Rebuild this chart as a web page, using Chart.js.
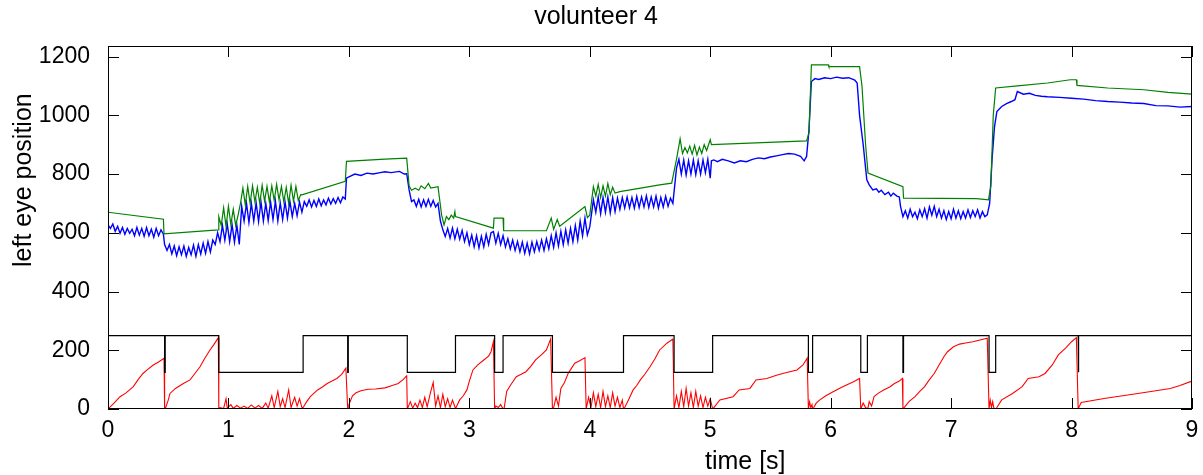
<!DOCTYPE html>
<html>
<head>
<meta charset="utf-8">
<script src="https://cdn.jsdelivr.net/npm/chart.js@4/dist/chart.umd.min.js"></script>
<style>
  html, body { margin: 0; padding: 0; background: #fff; }
  #wrap { width: 1203px; height: 475px; }
</style>
</head>
<body>
<div id="wrap"><canvas id="eye-chart" width="1203" height="475"></canvas></div>
<script>
const chartTitle = 'volunteer 4'
const xLabel = 'time [s]'
const yLabel = 'left eye position'
const xTicks = [0, 1, 2, 3, 4, 5, 6, 7, 8, 9]
const yTicks = [0, 200, 400, 600, 800, 1000, 1200]

// green: target position (time [s], value)
const greenTrace = [
  [0,670],[0.46,646],[0.465,596],[0.916,610],[0.92,655],[0.94,625],[0.96,685],[0.98,622],[1.0,690],[1.02,628],
  [1.04,680],[1.06,625],[1.08,660],[1.1,700],[1.12,752],[1.14,695],[1.16,758],[1.18,700],[1.2,760],[1.22,705],
  [1.24,755],[1.26,700],[1.28,762],[1.3,708],[1.32,758],[1.34,705],[1.36,760],[1.38,710],[1.4,765],[1.42,712],
  [1.44,758],[1.46,705],[1.48,755],[1.5,700],[1.52,762],[1.54,708],[1.56,758],[1.58,710],[1.6,730],[1.61,729],
  [1.97,775],[1.98,843],[2.3,851],[2.48,854],[2.5,760],[2.52,745],[2.55,752],[2.58,745],[2.6,760],[2.63,750],
  [2.66,768],[2.68,752],[2.74,757],[2.77,660],[2.79,627],[2.81,655],[2.83,645],[2.85,660],[2.87,650],[2.88,672],
  [2.885,655],[3.2,616],[3.205,650],[3.28,650],[3.285,607],[3.64,607],[3.68,650],[3.7,612],[3.73,645],[3.75,622],
  [3.96,689],[3.98,652],[4.0,660],[4.03,757],[4.05,725],[4.07,765],[4.09,720],[4.11,760],[4.13,725],[4.15,768],
  [4.17,730],[4.19,755],[4.21,735],[4.25,740],[4.58,763],[4.68,769],[4.72,850],[4.75,920],[4.77,870],[4.79,890],
  [4.81,872],[4.83,895],[4.85,868],[4.87,898],[4.89,865],[4.91,892],[4.93,870],[4.95,900],[4.97,880],[5.0,917],
  [5.01,900],[5.8,913],[5.82,940],[5.84,1172],[5.98,1172],[5.985,1166],[6.24,1166],[6.26,1100],[6.29,900],[6.31,803],
  [6.6,757],[6.605,718],[7.21,716],[7.31,712],[7.33,760],[7.35,1000],[7.37,1093],[7.55,1100],[7.8,1110],[7.99,1121],
  [8.04,1121],[8.045,1102],[8.3,1093],[8.6,1087],[8.8,1078],[9.0,1072]
]

// blue: measured eye position
const blueTrace = [
  [0,627],[0.02,615],[0.04,630],[0.06,605],[0.08,622],[0.1,598],[0.12,618],[0.14,595],[0.16,615],[0.18,598],
  [0.2,612],[0.22,590],[0.24,618],[0.26,592],[0.28,615],[0.3,588],[0.32,618],[0.34,590],[0.36,612],[0.38,585],
  [0.4,615],[0.42,590],[0.44,610],[0.46,595],[0.47,560],[0.49,540],[0.51,560],[0.53,528],[0.55,555],[0.57,522],
  [0.59,552],[0.61,525],[0.63,555],[0.65,520],[0.67,550],[0.69,525],[0.71,558],[0.73,520],[0.75,560],[0.77,528],
  [0.79,565],[0.81,530],[0.83,570],[0.85,535],[0.87,575],[0.89,560],[0.91,600],[0.93,570],[0.95,625],[0.97,575],
  [0.99,630],[1.01,570],[1.03,628],[1.05,568],[1.07,625],[1.09,560],[1.11,690],[1.13,640],[1.15,700],[1.17,635],
  [1.19,700],[1.21,640],[1.23,702],[1.25,638],[1.27,705],[1.29,640],[1.31,700],[1.33,642],[1.35,705],[1.37,645],
  [1.39,708],[1.41,640],[1.43,702],[1.45,645],[1.47,705],[1.49,650],[1.51,708],[1.53,655],[1.55,700],[1.57,658],
  [1.59,705],[1.61,670],[1.63,706],[1.65,690],[1.67,712],[1.69,688],[1.71,710],[1.73,690],[1.75,715],[1.77,692],
  [1.79,712],[1.81,695],[1.83,718],[1.85,698],[1.87,716],[1.89,700],[1.91,720],[1.93,702],[1.95,722],[1.97,715],
  [1.98,786],[2.0,790],[2.05,800],[2.1,795],[2.15,803],[2.2,800],[2.26,805],[2.3,808],[2.35,805],[2.42,809],
  [2.46,800],[2.48,801],[2.5,746],[2.52,706],[2.54,712],[2.56,690],[2.58,714],[2.6,688],[2.62,712],[2.64,690],
  [2.66,714],[2.68,690],[2.7,710],[2.72,688],[2.74,700],[2.76,640],[2.78,610],[2.8,587],[2.82,615],[2.84,582],
  [2.86,616],[2.88,580],[2.9,612],[2.92,578],[2.94,608],[2.96,570],[2.98,600],[3.0,560],[3.02,592],[3.04,552],
  [3.06,590],[3.08,548],[3.1,588],[3.12,552],[3.14,595],[3.16,560],[3.18,600],[3.2,604],[3.22,565],[3.24,598],
  [3.26,560],[3.28,590],[3.3,552],[3.32,580],[3.34,545],[3.36,575],[3.38,540],[3.4,570],[3.42,535],[3.44,568],
  [3.46,530],[3.48,565],[3.5,528],[3.52,568],[3.54,535],[3.56,570],[3.58,540],[3.6,575],[3.62,540],[3.64,580],
  [3.66,545],[3.68,590],[3.7,550],[3.72,600],[3.74,555],[3.76,605],[3.78,560],[3.8,610],[3.82,565],[3.84,615],
  [3.86,570],[3.88,625],[3.9,575],[3.92,640],[3.94,590],[3.96,650],[3.98,593],[4.0,620],[4.03,712],[4.05,670],
  [4.07,722],[4.09,665],[4.11,720],[4.13,670],[4.15,722],[4.17,668],[4.19,720],[4.21,672],[4.23,718],[4.25,680],
  [4.27,720],[4.29,684],[4.31,722],[4.33,685],[4.35,720],[4.37,684],[4.39,724],[4.41,686],[4.43,722],[4.45,688],
  [4.47,726],[4.49,686],[4.51,722],[4.53,688],[4.55,725],[4.57,684],[4.59,720],[4.61,688],[4.63,724],[4.65,690],
  [4.67,718],[4.69,700],[4.72,820],[4.74,850],[4.76,800],[4.78,848],[4.8,797],[4.82,845],[4.84,800],[4.86,848],
  [4.88,798],[4.9,845],[4.92,800],[4.94,848],[4.96,805],[4.98,850],[5.0,786],[5.01,845],[5.03,848],[5.06,842],
  [5.1,850],[5.15,845],[5.2,838],[5.25,845],[5.3,842],[5.35,850],[5.4,855],[5.45,852],[5.5,858],[5.55,862],
  [5.6,866],[5.65,870],[5.7,868],[5.75,860],[5.78,845],[5.8,860],[5.82,950],[5.84,1115],[5.87,1125],[5.9,1122],
  [5.95,1128],[6.0,1125],[6.05,1130],[6.1,1126],[6.15,1128],[6.2,1120],[6.22,1110],[6.24,1000],[6.27,900],[6.3,780],
  [6.32,763],[6.35,746],[6.38,750],[6.4,738],[6.42,745],[6.45,730],[6.48,738],[6.5,725],[6.52,735],[6.55,725],
  [6.57,722],[6.58,690],[6.6,655],[6.62,675],[6.64,650],[6.66,680],[6.68,655],[6.7,670],[6.72,648],[6.74,678],
  [6.76,655],[6.78,682],[6.8,650],[6.82,688],[6.84,660],[6.86,690],[6.88,655],[6.9,680],[6.92,650],[6.94,675],
  [6.96,645],[6.98,672],[7.0,648],[7.02,680],[7.04,650],[7.06,675],[7.08,648],[7.1,672],[7.12,650],[7.14,678],
  [7.16,652],[7.18,675],[7.2,655],[7.22,678],[7.24,650],[7.26,672],[7.28,655],[7.3,661],[7.32,700],[7.34,850],
  [7.36,960],[7.38,1013],[7.42,1030],[7.46,1040],[7.5,1047],[7.53,1053],[7.55,1081],[7.6,1072],[7.65,1075],[7.7,1068],
  [7.75,1065],[7.8,1063],[7.9,1061],[8.0,1058],[8.1,1055],[8.2,1050],[8.3,1047],[8.4,1045],[8.5,1042],[8.6,1040],
  [8.7,1033],[8.8,1032],[8.9,1028],[9.0,1030]
]

// red: ramp counter, reset at every gate change
const redTrace = [
  [0,0],[0.05,20],[0.1,42],[0.15,55],[0.21,76],[0.25,100],[0.29,121],[0.33,135],[0.376,150],[0.42,160],[0.465,173],[0.47,0],
  [0.475,0],[0.5,30],[0.515,53],[0.56,70],[0.626,87],[0.681,99],[0.72,120],[0.764,144],[0.8,170],[0.847,201],[0.88,220],[0.916,243],[0.92,0],
  [0.93,5],[0.96,2],[0.98,35],[0.99,3],[1.02,15],[1.04,2],[1.07,12],[1.1,3],[1.13,10],[1.16,2],[1.19,14],[1.22,3],[1.25,12],[1.28,2],
  [1.31,20],[1.33,3],[1.36,45],[1.38,5],[1.41,60],[1.43,8],[1.45,35],[1.47,5],[1.5,65],[1.52,5],[1.55,40],[1.57,10],[1.59,35],[1.61,5],
  [1.62,5],[1.65,25],[1.68,42],[1.74,65],[1.78,75],[1.82,87],[1.86,95],[1.9,104],[1.94,118],[1.975,139],[1.99,0],
  [1.995,0],[2.0,15],[2.03,45],[2.06,55],[2.1,62],[2.16,67],[2.22,68],[2.3,72],[2.36,80],[2.41,87],[2.45,100],[2.48,113],[2.485,0],
  [2.49,5],[2.51,25],[2.53,3],[2.55,20],[2.57,5],[2.59,30],[2.61,5],[2.63,40],[2.65,8],[2.68,60],[2.7,90],[2.72,10],[2.74,45],
  [2.76,5],[2.78,50],[2.8,8],[2.82,35],[2.84,5],[2.86,30],[2.885,2],
  [2.89,5],[2.92,31],[2.95,45],[2.98,65],[3.0,95],[3.03,133],[3.07,150],[3.12,167],[3.16,180],[3.18,195],[3.2,229],[3.21,0],
  [3.22,10],[3.24,5],[3.26,15],[3.28,0],
  [3.29,5],[3.31,60],[3.34,80],[3.39,110],[3.43,118],[3.47,127],[3.51,145],[3.55,167],[3.6,185],[3.64,201],[3.675,238],[3.69,0],
  [3.7,5],[3.72,40],[3.74,10],[3.76,70],[3.79,90],[3.82,121],[3.85,140],[3.875,156],[3.92,165],[3.96,175],[3.97,0],
  [3.99,40],[4.01,5],[4.03,55],[4.05,8],[4.07,50],[4.09,5],[4.11,60],[4.13,8],[4.15,45],[4.17,5],[4.19,55],[4.21,10],[4.23,40],[4.25,5],[4.27,30],[4.28,0],
  [4.29,5],[4.32,30],[4.36,65],[4.39,80],[4.42,99],[4.46,120],[4.5,144],[4.54,170],[4.58,201],[4.64,224],[4.69,238],[4.7,0],
  [4.72,45],[4.74,5],[4.76,60],[4.78,8],[4.8,70],[4.82,10],[4.84,55],[4.86,5],[4.88,60],[4.9,10],[4.92,45],[4.94,5],[4.96,40],[4.98,10],[5.0,35],[5.02,0],
  [5.03,5],[5.08,31],[5.19,42],[5.24,65],[5.33,70],[5.38,99],[5.47,104],[5.55,115],[5.61,122],[5.72,133],[5.77,150],[5.805,173],[5.815,0],
  [5.825,25],[5.835,5],[5.845,15],[5.85,0],
  [5.86,5],[5.88,20],[5.91,31],[5.96,45],[6.02,59],[6.1,76],[6.19,93],[6.24,104],[6.25,0],
  [6.27,20],[6.29,5],[6.305,0],
  [6.31,5],[6.32,25],[6.34,10],[6.36,42],[6.4,55],[6.44,65],[6.49,75],[6.53,87],[6.57,95],[6.595,104],[6.6,0],
  [6.61,5],[6.65,25],[6.7,42],[6.74,60],[6.78,76],[6.82,100],[6.86,121],[6.9,150],[6.94,178],[6.97,195],[7.02,212],[7.07,221],
  [7.12,225],[7.18,229],[7.24,235],[7.3,241],[7.315,0],
  [7.325,30],[7.335,5],[7.345,25],[7.355,3],[7.37,0],
  [7.38,5],[7.42,31],[7.51,53],[7.59,76],[7.64,104],[7.73,110],[7.78,121],[7.84,150],[7.89,184],[7.95,207],[8.0,229],[8.04,243],[8.055,0],
  [8.06,5],[8.08,22],[8.27,36],[8.55,53],[8.7,62],[8.82,70],[8.9,80],[9.0,95]
]

// black: gate signal, high 250 / low 125
const gateTrace = [
  [0,250],[0.47,250],[0.47,125],[0.475,125],[0.475,250],[0.92,250],[0.92,125],[1.62,125],[1.62,250],[1.99,250],
  [1.99,125],[1.995,125],[1.995,250],[2.485,250],[2.485,125],[2.885,125],[2.885,250],[3.21,250],[3.21,125],[3.28,125],
  [3.28,250],[3.69,250],[3.69,125],[4.28,125],[4.28,250],[4.7,250],[4.7,125],[5.02,125],[5.02,250],[5.815,250],
  [5.815,125],[5.85,125],[5.85,250],[6.25,250],[6.25,125],[6.305,125],[6.305,250],[6.6,250],[6.6,125],[6.605,125],
  [6.605,250],[7.315,250],[7.315,125],[7.37,125],[7.37,250],[8.055,250],[8.055,125],[8.06,125],[8.06,250],[9,250]
]

const toPoints = arr => arr.map(([x, y]) => ({ x, y }))

// box with inward ticks on all four sides, plus axis labels
const matlabFrame = {
  id: 'matlabFrame',
  afterDraw(chart) {
    const { ctx, chartArea: a, scales: { x, y } } = chart
    const tl = 11
    ctx.save()
    ctx.strokeStyle = '#000'
    ctx.lineWidth = 1
    ctx.strokeRect(a.left + 0.5, a.top + 0.5, a.right - a.left - 1, a.bottom - a.top - 1)
    ctx.beginPath()
    for (const v of xTicks) {
      const px = Math.round(x.getPixelForValue(v)) + 0.5
      ctx.moveTo(px, a.bottom); ctx.lineTo(px, a.bottom - tl)
      ctx.moveTo(px, a.top); ctx.lineTo(px, a.top + tl)
    }
    for (const v of yTicks) {
      const py = Math.round(y.getPixelForValue(v)) + 0.5
      ctx.moveTo(a.left, py); ctx.lineTo(a.left + tl, py)
      ctx.moveTo(a.right, py); ctx.lineTo(a.right - tl, py)
    }
    ctx.stroke()

    ctx.fillStyle = '#000'
    ctx.font = '25px "Liberation Sans", Arial, sans-serif'
    ctx.textAlign = 'left'
    ctx.textBaseline = 'middle'
    ctx.fillText(xLabel, 705, 462)
    ctx.translate(24, 267)
    ctx.rotate(-Math.PI / 2)
    ctx.fillText(yLabel, 0, 0)
    ctx.restore()
  }
}

Chart.defaults.font.family = '"Liberation Sans", Arial, sans-serif'
Chart.defaults.color = '#000'

const lineSet = (data, color, w) => ({
  data: toPoints(data), borderColor: color, borderWidth: w, pointRadius: 0, tension: 0, fill: false
})

new Chart(document.getElementById('eye-chart'), {
  type: 'line',
  data: {
    datasets: [
      lineSet(greenTrace, '#008000', 1.2),
      lineSet(blueTrace, '#0000ff', 1.4),
      lineSet(gateTrace, '#000000', 1.2),
      lineSet(redTrace, '#ff0000', 1.1)
    ]
  },
  options: {
    responsive: false,
    animation: false,
    devicePixelRatio: 1,
    layout: { padding: { left: 0, right: 11, top: 0, bottom: 0 } },
    plugins: {
      legend: { display: false },
      tooltip: { enabled: false },
      title: { display: true, text: chartTitle, color: '#000', font: { size: 25, weight: 'normal' }, padding: { top: 2, bottom: 14 } }
    },
    scales: {
      x: {
        type: 'linear', min: 0, max: 9,
        afterBuildTicks: s => { s.ticks = xTicks.map(v => ({ value: v })) },
        afterFit: s => { s.height = 66 },
        grid: { display: false }, border: { display: false },
        ticks: { font: { size: 23 }, padding: 0, maxRotation: 0, callback: v => String(v) }
      },
      y: {
        type: 'linear', min: 0, max: 1236,
        afterBuildTicks: s => { s.ticks = yTicks.map(v => ({ value: v })) },
        afterFit: s => { s.width = 108 },
        grid: { display: false }, border: { display: false },
        ticks: { font: { size: 23 }, padding: 10, callback: v => String(v) }
      }
    }
  },
  plugins: [matlabFrame]
})
</script>
</body>
</html>
